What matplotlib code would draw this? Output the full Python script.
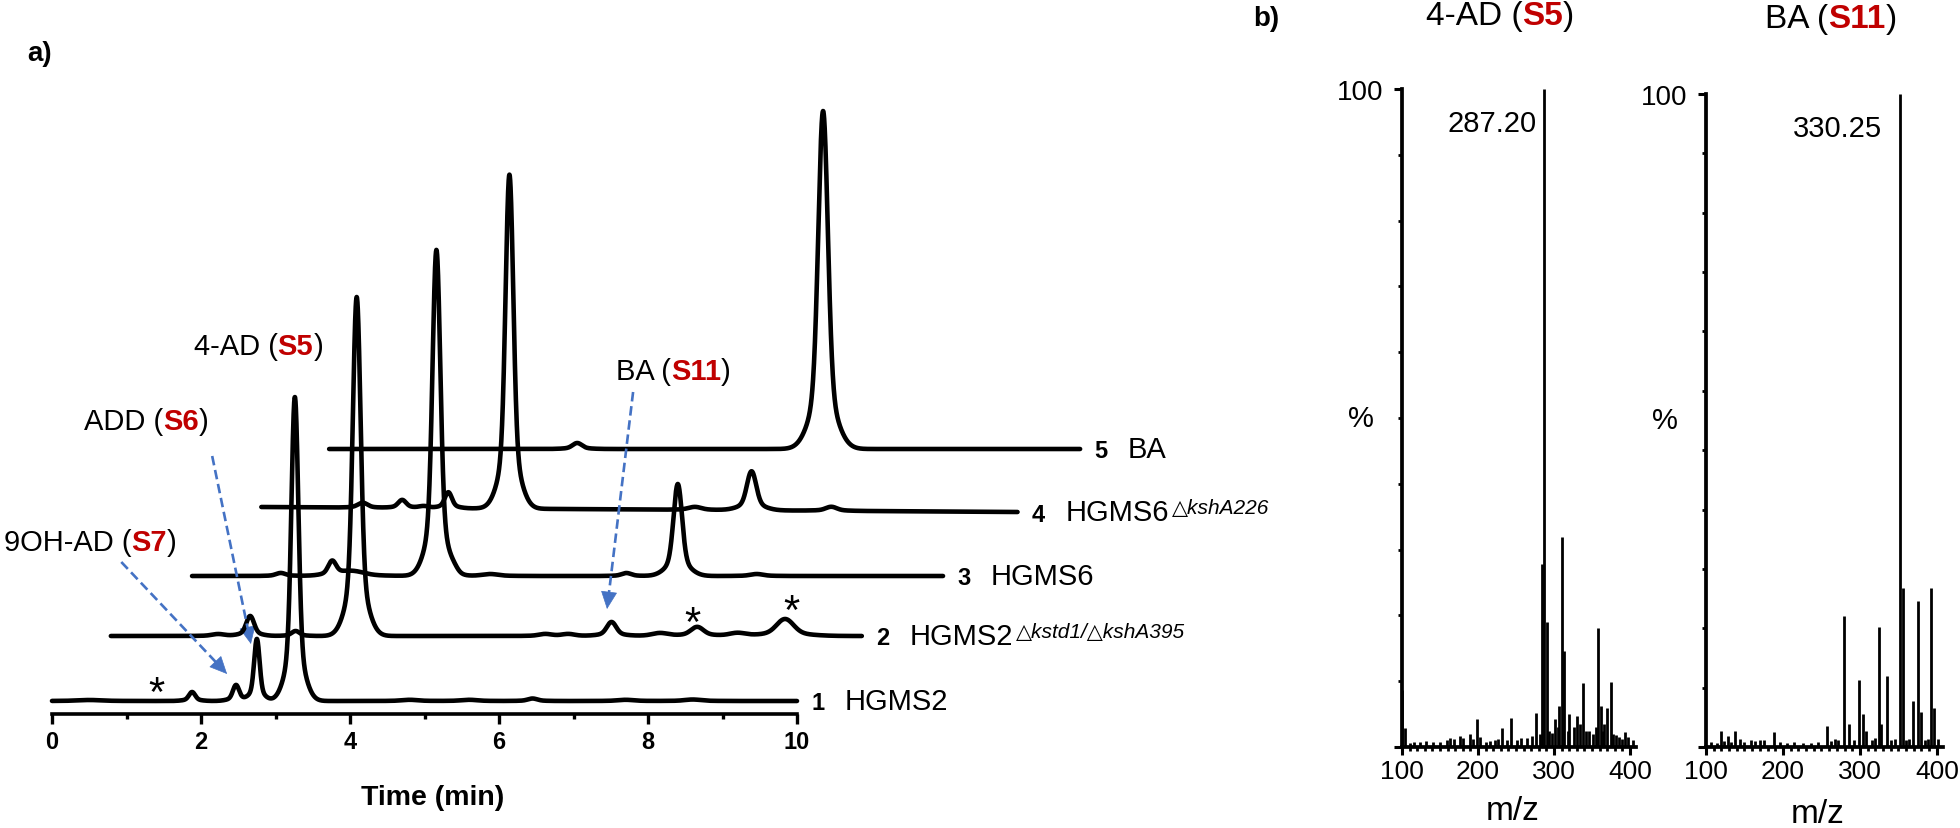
import numpy as np
import matplotlib
matplotlib.use("Agg")
import matplotlib.pyplot as plt
from matplotlib.offsetbox import TextArea, HPacker, AnnotationBbox
from matplotlib.patches import FancyArrowPatch

plt.rcParams['font.family'] = ['Liberation Sans', 'DejaVu Sans']

RED = '#C00000'
BLUE = '#4472C4'
FIG_W, FIG_H = 1960, 829
PX_PER_MIN = 74.5

# ---------------- a) stacked chromatograms ----------------
trace_numbers = ['1', '2', '3', '4', '5']
trace_names = ['HGMS2', 'HGMS2', 'HGMS6', 'HGMS6', 'BA']
trace_supers = ['', '\u25b3kstd1/\u25b3kshA395', '', '\u25b3kshA226', '']
trace_shift = [0.0, 0.79, 1.88, 2.81, 3.72]        # min, horizontal stacking
trace_base_start = [0, 65, 125, 194, 252]          # vertical stacking at t=0
trace_base_end = [0, 65, 125, 189, 252]
trace_duration = [10.0, 10.08, 10.08, 10.15, 10.08]

# retention time (min), height, width (min) for each trace
rt1 = [0.5, 1.88, 2.47, 2.75, 3.26, 4.8, 5.6, 6.45, 7.7, 8.6]
amp1 = [1, 9, 16, 62, 304, 1.2, 1.2, 2.5, 1.2, 1.5]
wid1 = [0.15, 0.04, 0.04, 0.035, 0.045, 0.1, 0.1, 0.06, 0.1, 0.1]

rt2 = [1.44, 1.87, 2.48, 3.30, 5.83, 6.14, 6.72, 7.37, 7.87, 8.41, 9.05]
amp2 = [2, 20, 5, 339, 2, 2, 14, 3, 9, 3, 17]
wid2 = [0.08, 0.05, 0.05, 0.05, 0.08, 0.08, 0.06, 0.1, 0.08, 0.1, 0.11]

rt3 = [1.19, 1.88, 2.15, 3.28, 3.52, 4.0, 5.83, 6.52, 7.58]
amp3 = [3, 14, 5, 326, 3, 2, 3, 92, 2]
wid3 = [0.06, 0.05, 0.15, 0.05, 0.05, 0.1, 0.06, 0.055, 0.08]

rt4 = [1.36, 1.89, 2.18, 2.51, 3.33, 5.82, 6.58, 7.65]
amp4 = [5, 8, 2, 16, 334, 3, 39, 4]
wid4 = [0.06, 0.05, 0.06, 0.045, 0.05, 0.08, 0.06, 0.07]

rt5 = [3.33, 6.63]
amp5 = [6, 338]
wid5 = [0.06, 0.062]

trace_rt = [rt1, rt2, rt3, rt4, rt5]
trace_amp = [amp1, amp2, amp3, amp4, amp5]
trace_wid = [wid1, wid2, wid3, wid4, wid5]

# ---------------- b) mass spectra ----------------
mz_4ad = [100, 198.3, 232, 243, 276, 284.6, 287.2, 290.4, 301, 307, 310, 313,
          320, 330, 337.7, 358, 361.4, 366, 369.3, 374.6, 393]
int_4ad = [8.6, 4.3, 2.9, 4.4, 5.2, 27.8, 100, 19.0, 4.3, 6.2, 31.9, 14.6,
           5.0, 4.7, 9.7, 18.1, 6.2, 3.5, 5.9, 9.9, 2.3]
noise_mz_4ad = [104, 110, 116, 124, 132, 141, 150, 159, 163, 169, 176, 180, 189,
                194, 203, 210, 216, 223, 227, 238, 251, 257, 264, 271, 281, 293,
                297, 305, 318, 326, 334, 342, 346, 352, 356, 364, 378, 382, 386,
                390, 398, 404]
noise_int_4ad = [2.9, 0.6, 0.8, 0.7, 0.9, 0.8, 0.7, 1.0, 1.4, 1.2, 1.6, 1.4, 1.9,
                 1.2, 1.5, 0.8, 0.9, 1.0, 1.2, 1.0, 1.0, 1.3, 1.4, 1.6, 2.0, 2.5,
                 2.2, 3.0, 2.5, 3.0, 3.5, 2.5, 2.5, 2.0, 3.0, 2.5, 2.0, 1.8, 1.5,
                 1.2, 1.5, 1.0]

mz_ba = [119.5, 129, 137.7, 144, 188.7, 256.7, 279.2, 286.2, 298.3, 304.3, 307.4,
         324.7, 327.3, 335.5, 352, 355.5, 369.2, 375.7, 379.2, 393, 395.7, 401]
int_ba = [2.5, 1.7, 2.4, 1.3, 2.3, 3.2, 20.0, 3.5, 10.3, 5.0, 2.5,
          18.4, 3.5, 10.9, 100, 24.3, 7.1, 22.3, 5.4, 24.3, 5.9, 1.2]
noise_mz_ba = [107, 114, 124, 132, 150, 158, 164, 170, 176, 196, 205, 214, 226,
               236, 246, 262, 268, 272, 292, 316, 320, 341, 346, 360, 364, 385, 388]
noise_int_ba = [0.8, 0.6, 0.9, 0.7, 0.8, 1.0, 0.9, 1.1, 1.0, 0.7, 0.6, 0.8, 0.6,
                0.6, 0.7, 0.9, 1.2, 1.0, 1.1, 1.0, 1.4, 1.0, 1.3, 1.0, 1.2, 1.1, 1.3]


def px_rect(left, top, width, height):
    return [left / FIG_W, 1 - (top + height) / FIG_H, width / FIG_W, height / FIG_H]


def peak_sum(t, rts, amps, wids):
    y = np.zeros_like(t)
    for r, a, w in zip(rts, amps, wids):
        y += a * (0.82 * np.exp(-0.5 * ((t - r) / w) ** 2)
                  + 0.18 * np.exp(-0.5 * ((t - r) / (2.6 * w)) ** 2))
    return y


def rich_label(parts, size):
    boxes = []
    for txt, red in parts:
        props = dict(fontsize=size, color=RED if red else 'black',
                     fontweight='bold' if red else 'normal')
        boxes.append(TextArea(txt, textprops=props))
    return HPacker(children=boxes, align='baseline', pad=0, sep=0)


def dashed_arrow(ax, start, tip, head_px=16):
    p0 = ax.transData.transform(start)
    p1 = ax.transData.transform(tip)
    u = (p1 - p0) / np.hypot(*(p1 - p0))
    base = ax.transData.inverted().transform(p1 - u * head_px)
    ax.plot([start[0], base[0]], [start[1], base[1]], color=BLUE, lw=1.9,
            ls=(0, (3.6, 1.8)), clip_on=False)
    head = FancyArrowPatch(tuple(base), tip,
                           arrowstyle='-|>,head_length=0.58,head_width=0.27',
                           mutation_scale=20, color=BLUE, lw=0.5,
                           shrinkA=0, shrinkB=0, clip_on=False)
    ax.add_patch(head)


fig = plt.figure(figsize=(FIG_W / 100, FIG_H / 100), dpi=100)

axA = fig.add_axes(px_rect(52, 15, 1048, 700))
axA.set_xlim(0, 1048 / PX_PER_MIN)
axA.set_ylim(-13, 687)
for side in ['top', 'right', 'left']:
    axA.spines[side].set_visible(False)
axA.spines['bottom'].set_bounds(0, 10)
axA.spines['bottom'].set_linewidth(2.6)
axA.set_xticks(range(0, 11, 2))
axA.set_xticks(range(1, 10, 2), minor=True)
axA.set_yticks([])
axA.tick_params(axis='x', which='major', length=7.5, width=2.4, direction='out',
                labelsize=17, pad=4)
axA.tick_params(axis='x', which='minor', length=3.8, width=2.4, direction='out')
for lab in axA.get_xticklabels():
    lab.set_fontweight('bold')

for i in range(5):
    t = np.linspace(0, trace_duration[i], 4000)
    base = trace_base_start[i] + (trace_base_end[i] - trace_base_start[i]) * t / trace_duration[i]
    y = base + peak_sum(t, trace_rt[i], trace_amp[i], trace_wid[i])
    axA.plot(trace_shift[i] + t, y, color='black', lw=3.3, solid_capstyle='round',
             solid_joinstyle='round', clip_on=False)

    x_end = trace_shift[i] + trace_duration[i]
    axA.annotate(trace_numbers[i], xy=(x_end, trace_base_end[i]), xytext=(21, -2),
                 textcoords='offset pixels', ha='center', va='center', fontsize=17,
                 fontweight='bold', annotation_clip=False)
    kids = [TextArea(trace_names[i], textprops=dict(fontsize=21))]
    if trace_supers[i]:
        kids.append(TextArea(trace_supers[i], textprops=dict(fontsize=15, style='italic')))
    box = HPacker(children=kids, align='top', pad=0, sep=2)
    axA.add_artist(AnnotationBbox(box, (x_end, trace_base_end[i]), xybox=(48, 0),
                                  xycoords='data', boxcoords='offset pixels',
                                  box_alignment=(0, 0.5), frameon=False, pad=0,
                                  annotation_clip=False))

peak_labels = [
    ([('4-AD (', False), ('S5', True), (')', False)], (2.77, 355)),
    ([('ADD (', False), ('S6', True), (')', False)], (1.26, 280)),
    ([('9OH-AD (', False), ('S7', True), (')', False)], (0.51, 159)),
    ([('BA (', False), ('S11', True), (')', False)], (8.34, 330)),
]
for parts, pos in peak_labels:
    axA.add_artist(AnnotationBbox(rich_label(parts, 21), pos, frameon=False, pad=0,
                                  box_alignment=(0.5, 0.5), annotation_clip=False))

dashed_arrow(axA, (2.15, 245), (2.67, 57))
dashed_arrow(axA, (0.93, 139), (2.35, 27))
dashed_arrow(axA, (7.80, 309), (7.45, 92))

for pos in [(1.40, 20), (8.59, 90), (9.93, 102)]:
    axA.annotate('*', xy=pos, xytext=(0, -9), textcoords='offset points',
                 ha='center', va='center', fontsize=30, annotation_clip=False)

fig.text(433 / FIG_W, 1 - 798 / FIG_H, 'Time (min)', ha='center', va='center',
         fontsize=20.5, fontweight='bold')
fig.text(40 / FIG_W, 1 - 54 / FIG_H, 'a)', ha='center', va='center',
         fontsize=20, fontweight='bold')


# ---------------- b) spectra ----------------
def spectrum_axes(rect, mz, inten, noise_mz, noise_int, yticks, peak_text, text_dx):
    ax = fig.add_axes(rect)
    ax.set_xlim(100, 408)
    ax.set_ylim(0, 100)
    ax.vlines(noise_mz, 0, noise_int, color='black', lw=2.0)
    ax.vlines(mz, 0, inten, color='black', lw=2.0)
    for side in ['top', 'right']:
        ax.spines[side].set_visible(False)
    for side in ['left', 'bottom']:
        ax.spines[side].set_linewidth(2.7)
    ax.set_xticks([100, 200, 300, 400])
    ax.set_xticks(np.arange(110, 408, 10), minor=True)
    ax.set_yticks([0, 100])
    ax.set_yticklabels(['', '100'])
    ax.set_yticks(yticks, minor=True)
    ax.tick_params(axis='both', which='major', length=5.5, width=2.2, direction='out')
    ax.tick_params(axis='both', which='minor', length=2.6, width=2.0, direction='out')
    ax.tick_params(axis='x', which='major', labelsize=19, pad=3)
    ax.tick_params(axis='y', which='major', labelsize=20, pad=8)
    ax.annotate('%', xy=(0, 50), xycoords=ax.get_yaxis_transform(), xytext=(-41, 0),
                textcoords='offset pixels', ha='center', va='center', fontsize=21)
    top_i = int(np.argmax(inten))
    ax.annotate(peak_text, xy=(mz[top_i], 94.8), xytext=(text_dx, 0),
                textcoords='offset pixels', ha='right', va='center', fontsize=21)
    return ax


spectrum_axes(px_rect(1402, 90, 234, 658), mz_4ad, int_4ad, noise_mz_4ad,
              noise_int_4ad, np.arange(10, 100, 10), '287.20', -8)
spectrum_axes(px_rect(1706, 95, 237, 653), mz_ba, int_ba, noise_mz_ba,
              noise_int_ba, np.arange(1, 11) * 100 / 11, '330.25', -18)

fig.add_artist(AnnotationBbox(rich_label([('4-AD (', False), ('S5', True), (')', False)], 24),
                              (1500, FIG_H - 17), xycoords='figure pixels',
                              frameon=False, pad=0, box_alignment=(0.5, 0.5)))
fig.add_artist(AnnotationBbox(rich_label([('BA (', False), ('S11', True), (')', False)], 24),
                              (1831, FIG_H - 20), xycoords='figure pixels',
                              frameon=False, pad=0, box_alignment=(0.5, 0.5)))
fig.text(1266 / FIG_W, 1 - 19 / FIG_H, 'b)', ha='center', va='center',
         fontsize=20, fontweight='bold')
fig.text(1513 / FIG_W, 1 - 812 / FIG_H, 'm/z', ha='center', va='center', fontsize=24)
fig.text(1818 / FIG_W, 1 - 815 / FIG_H, 'm/z', ha='center', va='center', fontsize=24)

fig.savefig('out.png', dpi=100)
